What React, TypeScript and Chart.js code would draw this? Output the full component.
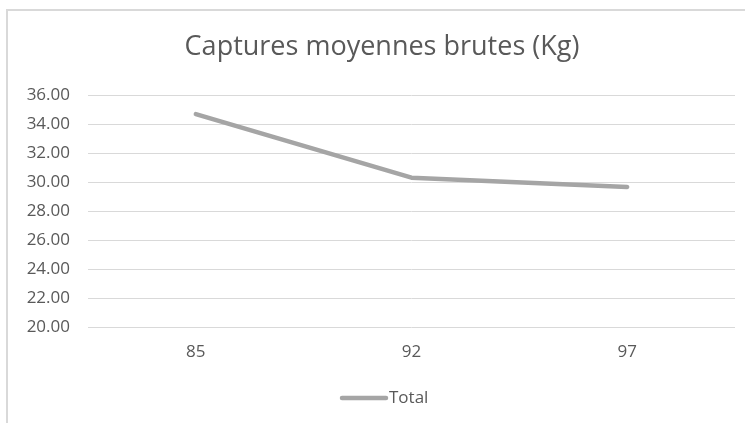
import React, { useEffect, useRef } from "react";
import { Chart, registerables } from "chart.js";

Chart.register(...registerables);

const chartTitle = "Captures moyennes brutes (Kg)";
const seriesName = "Total";
const categories = ["85", "92", "97"];
const totalValues = [34.68, 30.3, 29.66];
const yMin = 20;
const yMax = 36;
const yStep = 2;

const TEXT = "#595959";
const LINE = "#a5a5a5";
const GRID = "#d9d9d9";
const FONT = "'Open Sans', sans-serif";

export default function App() {
  const ref = useRef<HTMLCanvasElement | null>(null);

  useEffect(() => {
    if (!ref.current) return;
    const overlay = {
      id: "overlay",
      afterDraw(chart: any) {
        const ctx = chart.ctx;
        ctx.save();
        ctx.fillStyle = TEXT;
        ctx.font = `27px ${FONT}`;
        ctx.textAlign = "center";
        ctx.textBaseline = "middle";
        ctx.fillText(chartTitle, 382, 47);
        // legend
        ctx.strokeStyle = LINE;
        ctx.lineWidth = 4.5;
        ctx.lineCap = "round";
        ctx.beginPath();
        ctx.moveTo(342, 398);
        ctx.lineTo(386, 398);
        ctx.stroke();
        ctx.font = `17px ${FONT}`;
        ctx.textAlign = "left";
        ctx.fillText(seriesName, 389, 398);
        ctx.restore();
      },
    };
    const chart = new Chart(ref.current, {
      type: "line",
      data: {
        labels: categories,
        datasets: [
          {
            label: seriesName,
            data: totalValues,
            borderColor: LINE,
            backgroundColor: LINE,
            borderWidth: 4.5,
            borderCapStyle: "round",
            borderJoinStyle: "round",
            pointRadius: 0,
            tension: 0,
          },
        ],
      },
      options: {
        responsive: false,
        animation: false,
        layout: { padding: { top: 95, left: 0, right: 10, bottom: 0 } },
        plugins: {
          legend: { display: false },
          title: { display: false },
          tooltip: { enabled: false },
        },
        scales: {
          x: {
            type: "category",
            offset: true,
            grid: { display: false, drawTicks: false },
            border: { display: false },
            ticks: { color: TEXT, font: { family: FONT, size: 17 }, padding: 15 },
            afterFit: (s: any) => {
              s.height = 96;
            },
          },
          y: {
            min: yMin,
            max: yMax,
            ticks: {
              stepSize: yStep,
              color: TEXT,
              font: { family: FONT, size: 17 },
              padding: 18,
              callback: (v: any) => Number(v).toFixed(2),
            },
            grid: { color: GRID, lineWidth: 1, drawTicks: false },
            border: { display: false },
            afterFit: (s: any) => {
              s.width = 88;
            },
          },
        },
      },
      plugins: [overlay],
    });
    return () => chart.destroy();
  }, []);

  return (
    <div style={{ position: "fixed", left: 0, top: 0, width: 745, height: 423, background: "#fff", overflow: "hidden" }}>
      <div
        style={{
          position: "absolute",
          left: 6,
          top: 9,
          width: 800,
          height: 500,
          borderLeft: `2px solid ${GRID}`,
          borderTop: `2px solid ${GRID}`,
        }}
      />
      <canvas ref={ref} width={745} height={423} style={{ position: "absolute", left: 0, top: 0 }} />
    </div>
  );
}
